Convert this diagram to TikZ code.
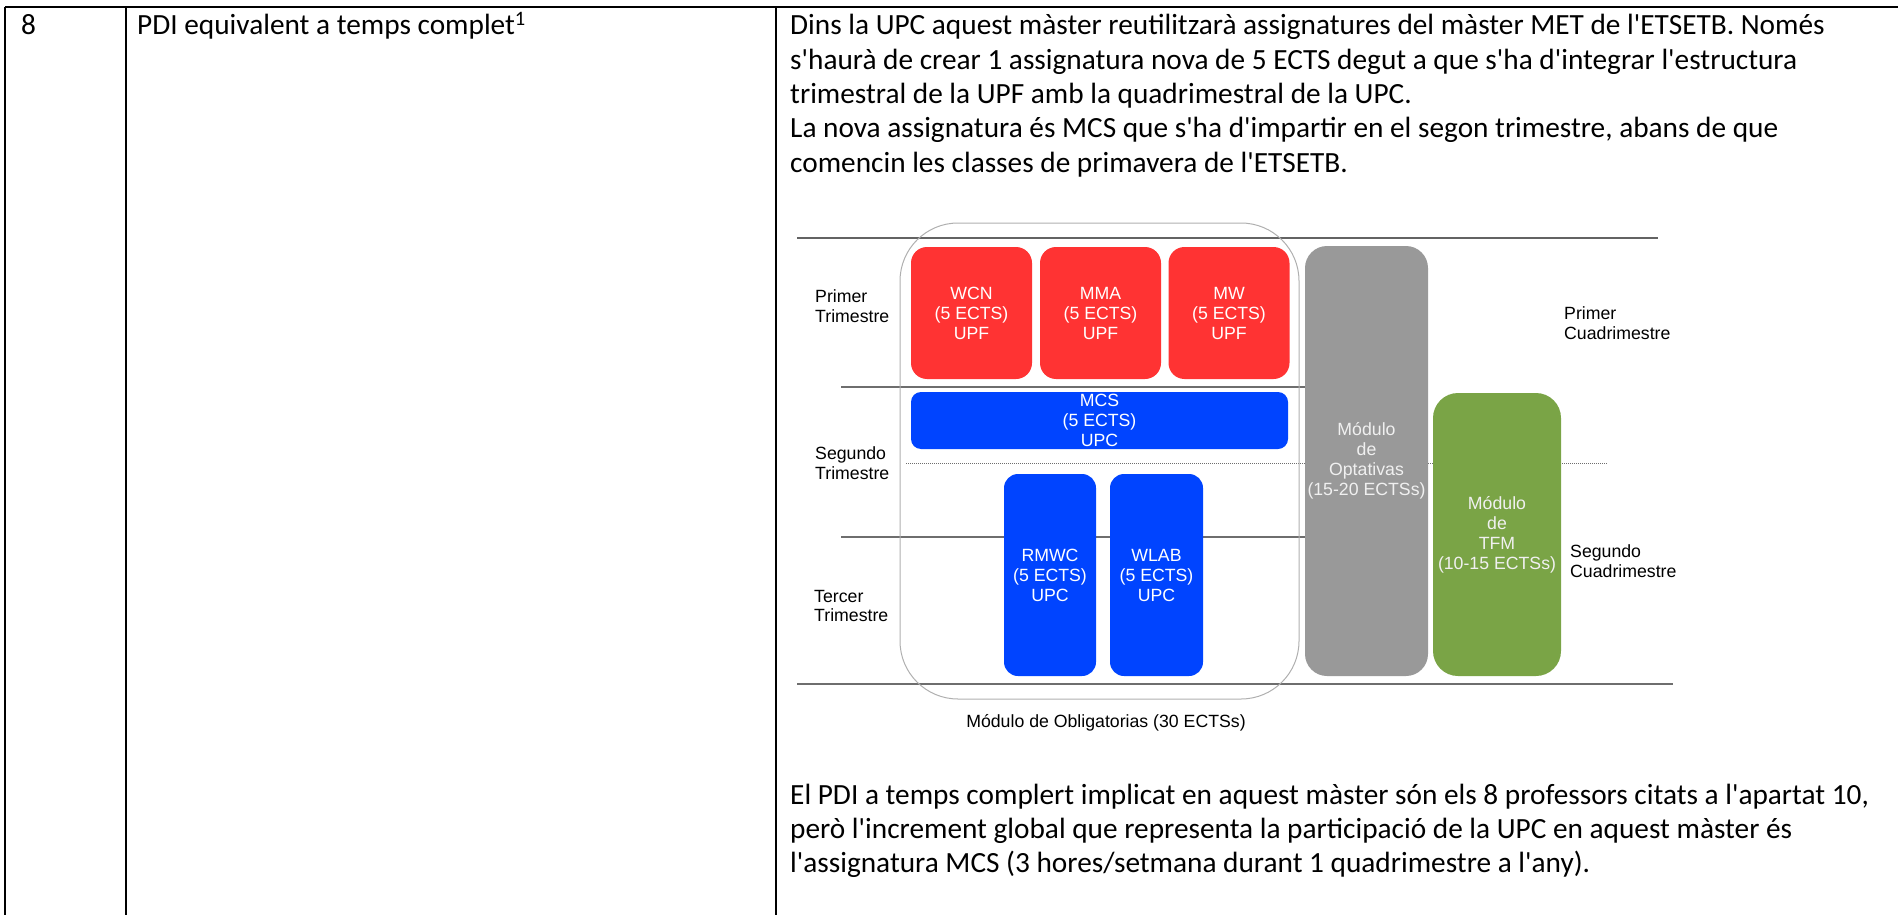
\documentclass[tikz,border=0pt]{standalone}
\usepackage{fontspec}
\setmainfont{Carlito}[Ligatures=TeXOff]
\newfontfamily\arialf{Liberation Sans}
\definecolor{boxred}{RGB}{255,51,51}
\definecolor{boxblue}{RGB}{0,68,255}
\definecolor{boxgray}{RGB}{153,153,153}
\definecolor{boxgreen}{RGB}{122,164,70}
\definecolor{linegray}{RGB}{110,110,110}
\definecolor{outergray}{RGB}{175,175,175}
\tikzset{
  body/.style={anchor=base west, inner sep=0pt, font=\fontsize{29.3}{34}\selectfont},
  lbl/.style={align=left, inner sep=0pt, font=\arialf\fontsize{17.7}{19.5}\selectfont},
  mod/.style={align=center, inner sep=0pt, text=white, font=\arialf\fontsize{17.7}{20}\selectfont},
  redbox/.style={mod, fill=boxred, rounded corners=16pt, minimum width=121pt, minimum height=132pt},
  bluebox/.style={mod, fill=boxblue},
  tabline/.style={line width=2pt, black},
  dline/.style={line width=1.5pt, linegray},
}
\begin{document}
\begin{tikzpicture}[x=1pt,y=-1pt]
\useasboundingbox (0,0) rectangle (1898,915);
% table
\coordinate (tl) at (5,7);
\coordinate (tr) at (1898,7);
\coordinate (bl) at (5,915);
\coordinate (c1t) at (126,7);
\coordinate (c1b) at (126,915);
\coordinate (c2t) at (776,7);
\coordinate (c2b) at (776,915);
\draw[tabline] (tl) -- (tr);
\draw[tabline] (tl) -- (bl);
\draw[tabline] (c1t) -- (c1b);
\draw[line width=1.6pt] (c2t) -- (c2b);
% left cells
\node[body] (num) at (21,35) {8};
\node[body] (pdi) at (137,35) {PDI equivalent a temps complet\textsuperscript{1}};
% right text top
\node[body] (t1) at (790,35) {Dins la UPC aquest màster reutilitzarà assignatures del màster MET de l'ETSETB. Només};
\node[body] (t2) at (790,69.3) {s'haurà de crear 1 assignatura nova de 5 ECTS degut a que s'ha d'integrar l'estructura};
\node[body] (t3) at (790,103.6) {trimestral de la UPF amb la quadrimestral de la UPC.};
\node[body] (t4) at (790,137.9) {La nova assignatura és MCS que s'ha d'impartir en el segon trimestre, abans de que};
\node[body] (t5) at (790,172.2) {comencin les classes de primavera de l'ETSETB.};
% right text bottom
\node[body] (b1) at (790,804) {El PDI a temps complert implicat en aquest màster són els 8 professors citats a l'apartat 10,};
\node[body] (b2) at (790,838) {però l'increment global que representa la participació de la UPC en aquest màster és};
\node[body] (b3) at (790,872) {l'assignatura MCS (3 hores/setmana durant 1 quadrimestre a l'any).};
% diagram lines
\coordinate (l1a) at (797,238);
\coordinate (l1b) at (1658,238);
\coordinate (l2a) at (841,387);
\coordinate (l2b) at (1310,387);
\coordinate (dla) at (906,463);
\coordinate (dlb) at (1608,463);
\coordinate (l3a) at (841,537);
\coordinate (l3b) at (1310,537);
\coordinate (l4a) at (797,684);
\coordinate (l4b) at (1673,684);
\draw[dline, linegray!90!black] (l1a) -- (l1b);
\draw[dline] (l2a) -- (l2b);
\draw[line width=1pt, linegray, dash pattern=on 1pt off 1pt] (dla) -- (dlb);
\draw[dline] (l3a) -- (l3b);
\draw[dline] (l4a) -- (l4b);
% outer module box
\draw[outergray, line width=1pt, rounded corners=58pt] (900,223) rectangle (1299,699);
\node[lbl, anchor=north, align=center] (oblig) at (1106,714) {Módulo de Obligatorias (30 ECTSs)};
% boxes
\node[redbox] (wcn) at (971.5,313) {WCN\\(5 ECTS)\\UPF};
\node[redbox] (mma) at (1100.5,313) {MMA\\(5 ECTS)\\UPF};
\node[redbox] (mw) at (1229,313) {MW\\(5 ECTS)\\UPF};
\node[bluebox, rounded corners=10pt, minimum width=377pt, minimum height=57pt] (mcs) at (1099.5,420.5) {MCS\\(5 ECTS)\\UPC};
\node[bluebox, rounded corners=14pt, minimum width=92pt, minimum height=202pt] (rmwc) at (1050,575) {RMWC\\(5 ECTS)\\UPC};
\node[bluebox, rounded corners=14pt, minimum width=93pt, minimum height=202pt] (wlab) at (1156.5,575) {WLAB\\(5 ECTS)\\UPC};
\node[mod, fill=boxgray, text=white!94!black, rounded corners=22pt, minimum width=123pt, minimum height=430pt] (opt) at (1366.5,461) {Módulo\\de\\Optativas\\(15-20 ECTSs)};
\node[mod, fill=boxgreen, text=white!94!black, rounded corners=25pt, minimum width=128pt, minimum height=283pt] (tfm) at (1497,534.5) {Módulo\\de\\TFM\\(10-15 ECTSs)};
% side labels
\node[lbl, anchor=west] (pt) at (815,306) {Primer\\Trimestre};
\node[lbl, anchor=west] (st) at (815,463) {Segundo\\Trimestre};
\node[lbl, anchor=west] (tt) at (814,606) {Tercer\\Trimestre};
\node[lbl, anchor=west] (pc) at (1564,323) {Primer\\Cuadrimestre};
\node[lbl, anchor=west] (sc) at (1570,561) {Segundo\\Cuadrimestre};
\end{tikzpicture}
\end{document}
